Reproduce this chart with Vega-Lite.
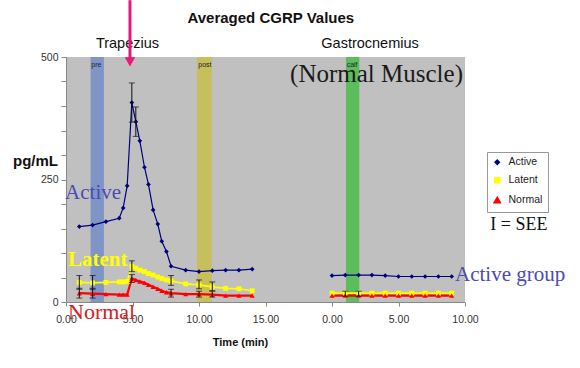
{
  "$schema": "https://vega.github.io/schema/vega-lite/v6.json",
  "autosize": {"type": "none"},
  "width": 399,
  "height": 245,
  "padding": {"left": 66, "top": 57, "right": 115, "bottom": 66},
  "background": "white",
  "config": {
    "view": {"fill": "#c0c0c0", "stroke": null},
    "axis": {"labelFont": "Liberation Sans", "labelFontSize": 10.5, "labelColor": "#333", "titleFont": "Liberation Sans", "titleFontWeight": "bold", "titleColor": "#111", "domainColor": "#888", "tickColor": "#888", "grid": false},
    "legend": {"labelFont": "Liberation Sans", "labelFontSize": 10.5, "labelColor": "#222", "fillColor": "white", "strokeColor": "#999", "padding": 5}
  },
  "encoding": {
    "x": {"field": "t", "type": "quantitative", "scale": {"domain": [0, 30], "nice": false, "zero": false},
      "axis": {"values": [0, 5, 10, 15, 20, 25, 30], "labelExpr": "format(datum.value >= 20 ? datum.value - 20 : datum.value, '.2f')", "tickSize": 4, "labelPadding": 8, "title": "Time (min)", "titleFontSize": 11, "titleX": 174, "titleY": 40, "titleBaseline": "middle", "labelFlush": false}},
    "y": {"field": "v", "type": "quantitative", "scale": {"domain": [0, 500], "nice": false},
      "axis": {"values": [0, 50, 100, 150, 200, 250, 300, 350, 400, 450, 500], "labelExpr": "datum.value % 250 === 0 ? datum.label : ''", "tickSize": 5, "labelPadding": 3, "title": "pg/mL", "titleFontSize": 15, "titleAngle": 0, "titleAlign": "center", "titleBaseline": "middle", "titleX": -31, "titleY": 103}}
  },
  "layer": [
    {
      "data": {"values": [
        {"band": "pre", "t": 1.85, "t2": 2.85, "v": 0, "v2": 500},
        {"band": "post", "t": 9.85, "t2": 10.95, "v": 0, "v2": 500},
        {"band": "calf", "t": 21.05, "t2": 22.05, "v": 0, "v2": 500}
      ]},
      "mark": {"type": "rect"},
      "encoding": {
        "x2": {"field": "t2"},
        "y2": {"field": "v2"},
        "fill": {"field": "band", "type": "nominal", "scale": {"domain": ["pre", "post", "calf"], "range": ["#7f95c6", "#c6bf5c", "#5cbd5c"]}, "legend": null}
      }
    },
    {
      "data": {"values": [
        {"label": "pre", "t": 1.9, "v": 484},
        {"label": "post", "t": 9.95, "v": 484},
        {"label": "calf", "t": 21.1, "v": 484}
      ]},
      "mark": {"type": "text", "align": "left", "baseline": "middle", "font": "Liberation Sans", "fontSize": 7, "color": "#223"},
      "encoding": {"text": {"field": "label"}}
    },
    {
      "data": {"name": "main"},
      "mark": {"type": "line"},
      "encoding": {
        "detail": {"field": "seg"},
        "color": {"field": "series", "type": "nominal", "scale": {"domain": ["Active", "Latent", "Normal"], "range": ["#000080", "#ffff00", "#ff0000"]},
          "legend": {"title": null, "orient": "none", "legendX": 421, "legendY": 95, "padding": 5, "fillColor": "white", "strokeColor": "#999", "symbolSize": 40, "rowPadding": 6, "labelOffset": 6}},
        "strokeWidth": {"field": "series", "type": "nominal", "scale": {"domain": ["Active", "Latent", "Normal"], "range": [1.2, 2.2, 1.5]}, "legend": null}
      }
    },
    {
      "data": {"name": "main"},
      "mark": {"type": "point", "filled": true, "opacity": 1},
      "encoding": {
        "color": {"field": "series", "type": "nominal", "scale": {"domain": ["Active", "Latent", "Normal"], "range": ["#000080", "#ffff00", "#ff0000"]},
          "legend": {"title": null, "orient": "none", "legendX": 421, "legendY": 95, "padding": 5, "fillColor": "white", "strokeColor": "#999", "symbolSize": 40, "rowPadding": 6, "labelOffset": 6}},
        "shape": {"field": "series", "type": "nominal", "scale": {"domain": ["Active", "Latent", "Normal"], "range": ["diamond", "square", "triangle-up"]}, "legend": null},
        "size": {"field": "series", "type": "nominal", "scale": {"domain": ["Active", "Latent", "Normal"], "range": [22, 26, 32]}, "legend": null}
      }
    },
    {
      "data": {"values": [
        {"t": 4.95, "v": 367, "v2": 447},
        {"t": 5.25, "v": 338, "v2": 398},
        {"t": 1, "v": 26, "v2": 54},
        {"t": 2, "v": 26, "v2": 54},
        {"t": 4.95, "v": 62, "v2": 84},
        {"t": 7.9, "v": 34, "v2": 54},
        {"t": 10, "v": 27, "v2": 45},
        {"t": 11, "v": 23, "v2": 41},
        {"t": 1, "v": 8, "v2": 28},
        {"t": 2, "v": 8, "v2": 28},
        {"t": 4.95, "v": 40, "v2": 56},
        {"t": 7.9, "v": 10, "v2": 26},
        {"t": 10, "v": 10, "v2": 22},
        {"t": 11, "v": 10, "v2": 22},
        {"t": 21, "v": 12, "v2": 22},
        {"t": 22, "v": 12, "v2": 22}
      ]},
      "mark": {"type": "errorbar", "color": "#111", "thickness": 1, "ticks": {"size": 6}},
      "encoding": {"y2": {"field": "v2"}}
    },
    {
      "data": {"values": [{"label": "Averaged CGRP Values", "t": 15.4, "v": 580}]},
      "mark": {"type": "text", "align": "center", "baseline": "middle", "font": "Liberation Sans", "fontSize": 15, "fontWeight": "bold", "color": "#111"},
      "encoding": {"text": {"field": "label"}}
    },
    {
      "data": {"values": [
        {"label": "Trapezius", "t": 4.62, "v": 526},
        {"label": "Gastrocnemius", "t": 22.86, "v": 526}
      ]},
      "mark": {"type": "text", "align": "center", "baseline": "middle", "font": "Liberation Sans", "fontSize": 14.5, "color": "#111"},
      "encoding": {"text": {"field": "label"}}
    },
    {
      "data": {"values": [{"label": "(Normal Muscle)", "t": 23.35, "v": 465}]},
      "mark": {"type": "text", "align": "center", "baseline": "middle", "font": "Liberation Serif", "fontSize": 25, "color": "#1a1a1a"},
      "encoding": {"text": {"field": "label"}}
    },
    {
      "data": {"values": [{"label": "Active", "t": -0.07, "v": 222}, {"label": "Active group", "t": 29.25, "v": 55}]},
      "mark": {"type": "text", "align": "left", "baseline": "middle", "font": "Liberation Serif", "fontSize": 21, "color": "#4b4bb4"},
      "encoding": {"text": {"field": "label"}}
    },
    {
      "data": {"values": [{"label": "Latent", "t": 0.15, "v": 86}]},
      "mark": {"type": "text", "align": "left", "baseline": "middle", "font": "Liberation Serif", "fontSize": 21, "fontWeight": "bold", "color": "#ffff00"},
      "encoding": {"text": {"field": "label"}}
    },
    {
      "data": {"values": [{"label": "Normal", "t": 0.15, "v": -20}]},
      "mark": {"type": "text", "align": "left", "baseline": "middle", "font": "Liberation Serif", "fontSize": 22, "color": "#d42020"},
      "encoding": {"text": {"field": "label"}}
    },
    {
      "data": {"values": [{"label": "I = SEE", "t": 31.9, "v": 157}]},
      "mark": {"type": "text", "align": "left", "baseline": "middle", "font": "Liberation Serif", "fontSize": 18, "color": "#111"},
      "encoding": {"text": {"field": "label"}}
    },
    {
      "data": {"values": [{"t": 4.81, "v": 616, "v2": 492}]},
      "mark": {"type": "rule", "color": "#e8177c", "strokeWidth": 3},
      "encoding": {"y2": {"field": "v2"}}
    },
    {
      "data": {"values": [{"t": 4.81, "v": 490}]},
      "mark": {"type": "point", "shape": "triangle-down", "filled": true, "color": "#e8177c", "size": 110, "opacity": 1},
      "encoding": {}
    }
  ],
  "datasets": {
    "main": [
      {"series": "Active", "seg": "T", "t": 1, "v": 154},
      {"series": "Active", "seg": "T", "t": 2, "v": 157},
      {"series": "Active", "seg": "T", "t": 3, "v": 164},
      {"series": "Active", "seg": "T", "t": 4, "v": 171},
      {"series": "Active", "seg": "T", "t": 4.3, "v": 192},
      {"series": "Active", "seg": "T", "t": 4.6, "v": 237},
      {"series": "Active", "seg": "T", "t": 4.95, "v": 407},
      {"series": "Active", "seg": "T", "t": 5.25, "v": 368},
      {"series": "Active", "seg": "T", "t": 5.55, "v": 329},
      {"series": "Active", "seg": "T", "t": 5.9, "v": 275},
      {"series": "Active", "seg": "T", "t": 6.2, "v": 240},
      {"series": "Active", "seg": "T", "t": 6.55, "v": 188},
      {"series": "Active", "seg": "T", "t": 6.9, "v": 159},
      {"series": "Active", "seg": "T", "t": 7.2, "v": 124},
      {"series": "Active", "seg": "T", "t": 7.55, "v": 103},
      {"series": "Active", "seg": "T", "t": 7.9, "v": 73},
      {"series": "Active", "seg": "T", "t": 9, "v": 65},
      {"series": "Active", "seg": "T", "t": 10, "v": 62},
      {"series": "Active", "seg": "T", "t": 11, "v": 64},
      {"series": "Active", "seg": "T", "t": 12, "v": 65},
      {"series": "Active", "seg": "T", "t": 13, "v": 65},
      {"series": "Active", "seg": "T", "t": 14, "v": 67},
      {"series": "Active", "seg": "G", "t": 20, "v": 54},
      {"series": "Active", "seg": "G", "t": 21, "v": 55},
      {"series": "Active", "seg": "G", "t": 22, "v": 55},
      {"series": "Active", "seg": "G", "t": 23, "v": 55},
      {"series": "Active", "seg": "G", "t": 24, "v": 54},
      {"series": "Active", "seg": "G", "t": 25, "v": 52},
      {"series": "Active", "seg": "G", "t": 26, "v": 52},
      {"series": "Active", "seg": "G", "t": 27, "v": 52},
      {"series": "Active", "seg": "G", "t": 28, "v": 52},
      {"series": "Active", "seg": "G", "t": 29, "v": 52},
      {"series": "Latent", "seg": "T", "t": 1, "v": 40},
      {"series": "Latent", "seg": "T", "t": 2, "v": 39},
      {"series": "Latent", "seg": "T", "t": 3, "v": 40},
      {"series": "Latent", "seg": "T", "t": 4, "v": 41},
      {"series": "Latent", "seg": "T", "t": 4.3, "v": 41},
      {"series": "Latent", "seg": "T", "t": 4.6, "v": 42},
      {"series": "Latent", "seg": "T", "t": 4.95, "v": 73},
      {"series": "Latent", "seg": "T", "t": 5.25, "v": 69},
      {"series": "Latent", "seg": "T", "t": 5.55, "v": 65},
      {"series": "Latent", "seg": "T", "t": 5.9, "v": 62},
      {"series": "Latent", "seg": "T", "t": 6.2, "v": 58},
      {"series": "Latent", "seg": "T", "t": 6.55, "v": 55},
      {"series": "Latent", "seg": "T", "t": 6.9, "v": 51},
      {"series": "Latent", "seg": "T", "t": 7.2, "v": 48},
      {"series": "Latent", "seg": "T", "t": 7.55, "v": 45},
      {"series": "Latent", "seg": "T", "t": 7.9, "v": 43},
      {"series": "Latent", "seg": "T", "t": 9, "v": 37},
      {"series": "Latent", "seg": "T", "t": 10, "v": 35},
      {"series": "Latent", "seg": "T", "t": 11, "v": 31},
      {"series": "Latent", "seg": "T", "t": 12, "v": 28},
      {"series": "Latent", "seg": "T", "t": 13, "v": 27},
      {"series": "Latent", "seg": "T", "t": 14, "v": 23},
      {"series": "Latent", "seg": "G", "t": 20, "v": 18},
      {"series": "Latent", "seg": "G", "t": 21, "v": 18},
      {"series": "Latent", "seg": "G", "t": 22, "v": 18},
      {"series": "Latent", "seg": "G", "t": 23, "v": 18},
      {"series": "Latent", "seg": "G", "t": 24, "v": 18},
      {"series": "Latent", "seg": "G", "t": 25, "v": 18},
      {"series": "Latent", "seg": "G", "t": 26, "v": 18},
      {"series": "Latent", "seg": "G", "t": 27, "v": 18},
      {"series": "Latent", "seg": "G", "t": 28, "v": 18},
      {"series": "Latent", "seg": "G", "t": 29, "v": 18},
      {"series": "Normal", "seg": "T", "t": 1, "v": 18},
      {"series": "Normal", "seg": "T", "t": 2, "v": 17},
      {"series": "Normal", "seg": "T", "t": 3, "v": 16},
      {"series": "Normal", "seg": "T", "t": 4, "v": 15},
      {"series": "Normal", "seg": "T", "t": 4.3, "v": 15},
      {"series": "Normal", "seg": "T", "t": 4.6, "v": 15},
      {"series": "Normal", "seg": "T", "t": 4.95, "v": 48},
      {"series": "Normal", "seg": "T", "t": 5.25, "v": 45},
      {"series": "Normal", "seg": "T", "t": 5.55, "v": 42},
      {"series": "Normal", "seg": "T", "t": 5.9, "v": 39},
      {"series": "Normal", "seg": "T", "t": 6.2, "v": 35},
      {"series": "Normal", "seg": "T", "t": 6.55, "v": 31},
      {"series": "Normal", "seg": "T", "t": 6.9, "v": 27},
      {"series": "Normal", "seg": "T", "t": 7.2, "v": 23},
      {"series": "Normal", "seg": "T", "t": 7.55, "v": 20},
      {"series": "Normal", "seg": "T", "t": 7.9, "v": 18},
      {"series": "Normal", "seg": "T", "t": 9, "v": 16},
      {"series": "Normal", "seg": "T", "t": 10, "v": 16},
      {"series": "Normal", "seg": "T", "t": 11, "v": 15},
      {"series": "Normal", "seg": "T", "t": 12, "v": 13},
      {"series": "Normal", "seg": "T", "t": 13, "v": 13},
      {"series": "Normal", "seg": "T", "t": 14, "v": 13},
      {"series": "Normal", "seg": "G", "t": 20, "v": 13},
      {"series": "Normal", "seg": "G", "t": 21, "v": 13},
      {"series": "Normal", "seg": "G", "t": 22, "v": 13},
      {"series": "Normal", "seg": "G", "t": 23, "v": 13},
      {"series": "Normal", "seg": "G", "t": 24, "v": 13},
      {"series": "Normal", "seg": "G", "t": 25, "v": 13},
      {"series": "Normal", "seg": "G", "t": 26, "v": 13},
      {"series": "Normal", "seg": "G", "t": 27, "v": 13},
      {"series": "Normal", "seg": "G", "t": 28, "v": 13},
      {"series": "Normal", "seg": "G", "t": 29, "v": 13}
    ]
  }
}
